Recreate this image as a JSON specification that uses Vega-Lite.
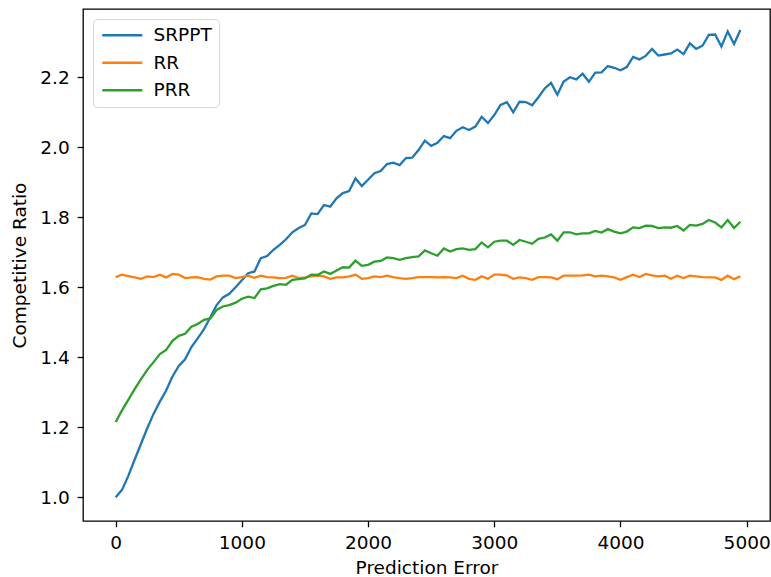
{
  "$schema": "https://vega.github.io/schema/vega-lite/v6.json",
  "width": 687,
  "height": 512,
  "autosize": {"type": "none"},
  "padding": {"left": 83, "top": 9, "right": 1, "bottom": 56},
  "background": "white",
  "config": {"font": "DejaVu Sans", "view": {"stroke": "black", "strokeWidth": 1.3}},
  "data": {"values": [
    {"x": 0, "SRPPT": 1.000, "RR": 1.629, "PRR": 1.215},
    {"x": 50, "SRPPT": 1.021, "RR": 1.636, "PRR": 1.248},
    {"x": 100, "SRPPT": 1.061, "RR": 1.632, "PRR": 1.278},
    {"x": 150, "SRPPT": 1.107, "RR": 1.628, "PRR": 1.309},
    {"x": 200, "SRPPT": 1.152, "RR": 1.624, "PRR": 1.337},
    {"x": 250, "SRPPT": 1.197, "RR": 1.631, "PRR": 1.364},
    {"x": 300, "SRPPT": 1.238, "RR": 1.629, "PRR": 1.386},
    {"x": 350, "SRPPT": 1.273, "RR": 1.636, "PRR": 1.409},
    {"x": 400, "SRPPT": 1.305, "RR": 1.628, "PRR": 1.421},
    {"x": 450, "SRPPT": 1.345, "RR": 1.638, "PRR": 1.447},
    {"x": 500, "SRPPT": 1.375, "RR": 1.636, "PRR": 1.461},
    {"x": 550, "SRPPT": 1.394, "RR": 1.626, "PRR": 1.467},
    {"x": 600, "SRPPT": 1.429, "RR": 1.628, "PRR": 1.487},
    {"x": 650, "SRPPT": 1.454, "RR": 1.629, "PRR": 1.495},
    {"x": 700, "SRPPT": 1.480, "RR": 1.624, "PRR": 1.507},
    {"x": 750, "SRPPT": 1.514, "RR": 1.622, "PRR": 1.511},
    {"x": 800, "SRPPT": 1.549, "RR": 1.631, "PRR": 1.535},
    {"x": 850, "SRPPT": 1.571, "RR": 1.633, "PRR": 1.545},
    {"x": 900, "SRPPT": 1.581, "RR": 1.633, "PRR": 1.549},
    {"x": 950, "SRPPT": 1.600, "RR": 1.626, "PRR": 1.556},
    {"x": 1000, "SRPPT": 1.620, "RR": 1.629, "PRR": 1.567},
    {"x": 1050, "SRPPT": 1.640, "RR": 1.633, "PRR": 1.573},
    {"x": 1100, "SRPPT": 1.645, "RR": 1.627, "PRR": 1.569},
    {"x": 1150, "SRPPT": 1.683, "RR": 1.633, "PRR": 1.594},
    {"x": 1200, "SRPPT": 1.689, "RR": 1.629, "PRR": 1.597},
    {"x": 1250, "SRPPT": 1.707, "RR": 1.628, "PRR": 1.604},
    {"x": 1300, "SRPPT": 1.721, "RR": 1.626, "PRR": 1.609},
    {"x": 1350, "SRPPT": 1.737, "RR": 1.627, "PRR": 1.607},
    {"x": 1400, "SRPPT": 1.757, "RR": 1.633, "PRR": 1.621},
    {"x": 1450, "SRPPT": 1.769, "RR": 1.626, "PRR": 1.623},
    {"x": 1500, "SRPPT": 1.778, "RR": 1.628, "PRR": 1.625},
    {"x": 1550, "SRPPT": 1.811, "RR": 1.631, "PRR": 1.636},
    {"x": 1600, "SRPPT": 1.809, "RR": 1.633, "PRR": 1.635},
    {"x": 1650, "SRPPT": 1.835, "RR": 1.631, "PRR": 1.645},
    {"x": 1700, "SRPPT": 1.830, "RR": 1.624, "PRR": 1.638},
    {"x": 1750, "SRPPT": 1.854, "RR": 1.628, "PRR": 1.648},
    {"x": 1800, "SRPPT": 1.869, "RR": 1.628, "PRR": 1.657},
    {"x": 1850, "SRPPT": 1.875, "RR": 1.631, "PRR": 1.656},
    {"x": 1900, "SRPPT": 1.911, "RR": 1.636, "PRR": 1.676},
    {"x": 1950, "SRPPT": 1.889, "RR": 1.624, "PRR": 1.661},
    {"x": 2000, "SRPPT": 1.907, "RR": 1.626, "PRR": 1.664},
    {"x": 2050, "SRPPT": 1.926, "RR": 1.631, "PRR": 1.673},
    {"x": 2100, "SRPPT": 1.932, "RR": 1.629, "PRR": 1.675},
    {"x": 2150, "SRPPT": 1.952, "RR": 1.633, "PRR": 1.685},
    {"x": 2200, "SRPPT": 1.956, "RR": 1.629, "PRR": 1.683},
    {"x": 2250, "SRPPT": 1.949, "RR": 1.626, "PRR": 1.678},
    {"x": 2300, "SRPPT": 1.969, "RR": 1.624, "PRR": 1.683},
    {"x": 2350, "SRPPT": 1.970, "RR": 1.626, "PRR": 1.686},
    {"x": 2400, "SRPPT": 1.992, "RR": 1.629, "PRR": 1.688},
    {"x": 2450, "SRPPT": 2.019, "RR": 1.629, "PRR": 1.705},
    {"x": 2500, "SRPPT": 2.004, "RR": 1.629, "PRR": 1.697},
    {"x": 2550, "SRPPT": 2.013, "RR": 1.628, "PRR": 1.690},
    {"x": 2600, "SRPPT": 2.032, "RR": 1.629, "PRR": 1.711},
    {"x": 2650, "SRPPT": 2.026, "RR": 1.628, "PRR": 1.702},
    {"x": 2700, "SRPPT": 2.047, "RR": 1.626, "PRR": 1.709},
    {"x": 2750, "SRPPT": 2.057, "RR": 1.633, "PRR": 1.711},
    {"x": 2800, "SRPPT": 2.049, "RR": 1.624, "PRR": 1.707},
    {"x": 2850, "SRPPT": 2.059, "RR": 1.621, "PRR": 1.709},
    {"x": 2900, "SRPPT": 2.087, "RR": 1.631, "PRR": 1.728},
    {"x": 2950, "SRPPT": 2.069, "RR": 1.624, "PRR": 1.714},
    {"x": 3000, "SRPPT": 2.092, "RR": 1.636, "PRR": 1.730},
    {"x": 3050, "SRPPT": 2.121, "RR": 1.636, "PRR": 1.733},
    {"x": 3100, "SRPPT": 2.129, "RR": 1.634, "PRR": 1.733},
    {"x": 3150, "SRPPT": 2.100, "RR": 1.624, "PRR": 1.721},
    {"x": 3200, "SRPPT": 2.130, "RR": 1.628, "PRR": 1.735},
    {"x": 3250, "SRPPT": 2.129, "RR": 1.626, "PRR": 1.730},
    {"x": 3300, "SRPPT": 2.120, "RR": 1.621, "PRR": 1.724},
    {"x": 3350, "SRPPT": 2.143, "RR": 1.629, "PRR": 1.738},
    {"x": 3400, "SRPPT": 2.168, "RR": 1.629, "PRR": 1.742},
    {"x": 3450, "SRPPT": 2.184, "RR": 1.628, "PRR": 1.751},
    {"x": 3500, "SRPPT": 2.150, "RR": 1.623, "PRR": 1.733},
    {"x": 3550, "SRPPT": 2.188, "RR": 1.633, "PRR": 1.757},
    {"x": 3600, "SRPPT": 2.200, "RR": 1.633, "PRR": 1.757},
    {"x": 3650, "SRPPT": 2.194, "RR": 1.633, "PRR": 1.751},
    {"x": 3700, "SRPPT": 2.210, "RR": 1.634, "PRR": 1.754},
    {"x": 3750, "SRPPT": 2.187, "RR": 1.636, "PRR": 1.754},
    {"x": 3800, "SRPPT": 2.213, "RR": 1.631, "PRR": 1.761},
    {"x": 3850, "SRPPT": 2.214, "RR": 1.633, "PRR": 1.756},
    {"x": 3900, "SRPPT": 2.232, "RR": 1.631, "PRR": 1.766},
    {"x": 3950, "SRPPT": 2.227, "RR": 1.628, "PRR": 1.759},
    {"x": 4000, "SRPPT": 2.220, "RR": 1.621, "PRR": 1.754},
    {"x": 4050, "SRPPT": 2.229, "RR": 1.629, "PRR": 1.759},
    {"x": 4100, "SRPPT": 2.258, "RR": 1.636, "PRR": 1.771},
    {"x": 4150, "SRPPT": 2.251, "RR": 1.629, "PRR": 1.769},
    {"x": 4200, "SRPPT": 2.261, "RR": 1.638, "PRR": 1.776},
    {"x": 4250, "SRPPT": 2.281, "RR": 1.634, "PRR": 1.775},
    {"x": 4300, "SRPPT": 2.262, "RR": 1.631, "PRR": 1.769},
    {"x": 4350, "SRPPT": 2.265, "RR": 1.633, "PRR": 1.771},
    {"x": 4400, "SRPPT": 2.268, "RR": 1.624, "PRR": 1.770},
    {"x": 4450, "SRPPT": 2.279, "RR": 1.633, "PRR": 1.775},
    {"x": 4500, "SRPPT": 2.266, "RR": 1.626, "PRR": 1.762},
    {"x": 4550, "SRPPT": 2.297, "RR": 1.633, "PRR": 1.778},
    {"x": 4600, "SRPPT": 2.281, "RR": 1.631, "PRR": 1.776},
    {"x": 4650, "SRPPT": 2.290, "RR": 1.629, "PRR": 1.781},
    {"x": 4700, "SRPPT": 2.321, "RR": 1.628, "PRR": 1.792},
    {"x": 4750, "SRPPT": 2.322, "RR": 1.628, "PRR": 1.785},
    {"x": 4800, "SRPPT": 2.288, "RR": 1.621, "PRR": 1.771},
    {"x": 4850, "SRPPT": 2.331, "RR": 1.633, "PRR": 1.792},
    {"x": 4900, "SRPPT": 2.295, "RR": 1.623, "PRR": 1.769},
    {"x": 4950, "SRPPT": 2.335, "RR": 1.631, "PRR": 1.787}
  ]},
  "transform": [{"fold": ["SRPPT", "RR", "PRR"], "as": ["series", "value"]}],
  "mark": {"type": "line", "strokeWidth": 2.3, "clip": true},
  "encoding": {
    "x": {
      "field": "x", "type": "quantitative",
      "scale": {"domain": [-259, 5185], "nice": false, "zero": false},
      "axis": {
        "title": "Prediction Error", "values": [0, 1000, 2000, 3000, 4000, 5000], "format": "d",
        "grid": false, "domain": false, "tickColor": "black", "tickSize": 5.8, "tickWidth": 1.3,
        "labelFont": "DejaVu Sans", "labelFontSize": 18.5, "labelColor": "black", "labelPadding": 7,
        "titleFont": "DejaVu Sans", "titleFontSize": 18.5, "titleFontWeight": "normal", "titleColor": "black", "titlePadding": 6
      }
    },
    "y": {
      "field": "value", "type": "quantitative",
      "scale": {"domain": [0.932, 2.395], "nice": false, "zero": false},
      "axis": {
        "title": "Competitive Ratio", "values": [1.0, 1.2, 1.4, 1.6, 1.8, 2.0, 2.2], "format": ".1f",
        "grid": false, "domain": false, "tickColor": "black", "tickSize": 5.8, "tickWidth": 1.3,
        "labelFont": "DejaVu Sans", "labelFontSize": 18.5, "labelColor": "black", "labelPadding": 8,
        "titleFont": "DejaVu Sans", "titleFontSize": 18.5, "titleFontWeight": "normal", "titleColor": "black", "titlePadding": 10
      }
    },
    "color": {
      "field": "series", "type": "nominal",
      "scale": {"domain": ["SRPPT", "RR", "PRR"], "range": ["#1f77b4", "#ff7f0e", "#2ca02c"]},
      "legend": {
        "title": null, "orient": "top-left", "offset": 10,
        "symbolType": "M-4,0H4", "symbolSize": 100, "symbolStrokeWidth": 2.3, "symbolOffset": 13,
        "labelFont": "DejaVu Sans", "labelFontSize": 18.5, "labelColor": "black", "labelOffset": 22,
        "rowPadding": 8.5, "padding": 7,
        "strokeColor": "#d6d6d6", "fillColor": "white", "cornerRadius": 4
      }
    }
  }
}
